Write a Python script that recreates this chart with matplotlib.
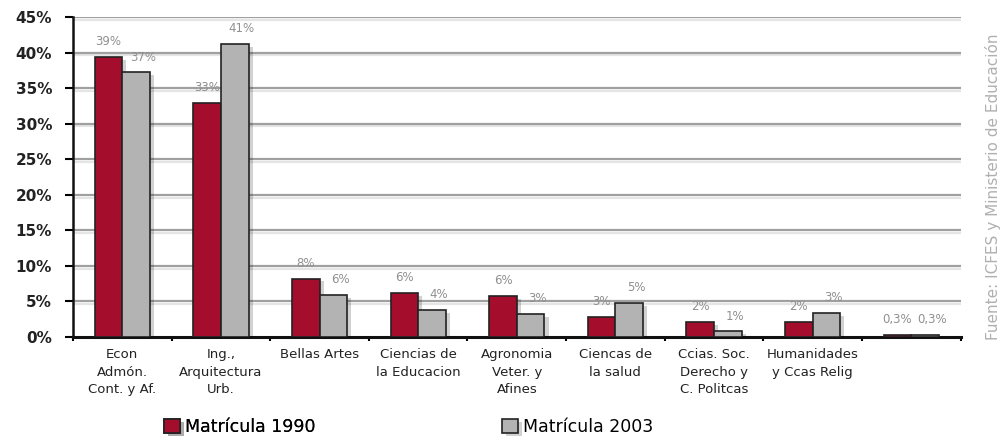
import numpy as np
import matplotlib
import matplotlib.pyplot as plt
import matplotlib.patheffects as pe
from matplotlib.ticker import FuncFormatter, MultipleLocator

matplotlib.use('Agg')

categories = ["Econ\nAdmón.\nCont. y Af.", "Ing.,\nArquitectura\nUrb.", "Bellas Artes",
              "Ciencias de\nla Educacion", "Agronomia\nVeter. y\nAfines", "Ciencas de\nla salud",
              "Ccias. Soc.\nDerecho y\nC. Politcas", "Humanidades\ny Ccas Relig", ""]
mat_1990 = [39.4, 32.9, 8.2, 6.2, 5.8, 2.8, 2.1, 2.1, 0.3]
mat_2003 = [37.2, 41.2, 5.9, 3.8, 3.2, 4.8, 0.8, 3.4, 0.3]
labels_1990 = ["39%", "33%", "8%", "6%", "6%", "3%", "2%", "2%", "0,3%"]
labels_2003 = ["37%", "41%", "6%", "4%", "3%", "5%", "1%", "3%", "0,3%"]

RED = '#a50d2c'
GRAY = '#b3b3b3'
W = 0.28

fig = plt.figure(figsize=(10.08, 4.45), dpi=100)
ax = fig.add_axes([0.0724, 0.2427, 0.8806, 0.7191])

x = np.arange(len(categories))
shadow = [pe.SimplePatchShadow(offset=(3, -2), shadow_rgbFace='black', alpha=0.18), pe.Normal()]

# rejilla gris con sombra suave
for yv in range(5, 46, 5):
    ax.axhline(yv, color='#a0a0a0', lw=1.6, zorder=1,
               path_effects=[pe.SimpleLineShadow(offset=(0, -2), alpha=0.1), pe.Normal()])

b1 = ax.bar(x - W / 2, mat_1990, W, color=RED, edgecolor='#222222', lw=1.2, zorder=3,
            label='Matrícula 1990')
b2 = ax.bar(x + W / 2, mat_2003, W, color=GRAY, edgecolor='#222222', lw=1.2, zorder=3,
            label='Matrícula 2003')
for b in list(b1) + list(b2):
    b.set_path_effects(shadow)

for i in range(len(categories)):
    ax.annotate(labels_1990[i], (x[i] - W / 2, mat_1990[i]), xytext=(0, 11), textcoords='offset points',
                ha='center', va='center', fontsize=8.5, color='#909090')
    ax.annotate(labels_2003[i], (x[i] + W / 2, mat_2003[i]), xytext=(5, 11), textcoords='offset points',
                ha='center', va='center', fontsize=8.5, color='#909090')

ax.set_xlim(-0.5, len(categories) - 0.5)
ax.set_ylim(0, 45)
ax.yaxis.set_major_locator(MultipleLocator(5))
ax.yaxis.set_major_formatter(FuncFormatter(lambda v, p: f"{int(v)}%"))
for t in ax.get_yticklabels():
    t.set_fontweight('bold')
ax.tick_params(axis='y', length=6, width=1.5, pad=9, labelsize=11, labelcolor='#222222')

ax.set_xticks(x)
ax.set_xticklabels(categories, fontsize=9.5, color='#222222', linespacing=1.45, va='top')
ax.set_xticks(np.arange(len(categories) + 1) - 0.5, minor=True)
ax.tick_params(axis='x', which='major', length=0, pad=8)
ax.tick_params(axis='x', which='minor', length=3, width=1.5)

for s in ['top', 'right']:
    ax.spines[s].set_visible(False)
ax.spines['left'].set_linewidth(1.8)
ax.spines['bottom'].set_linewidth(2.2)
ax.spines['left'].set_color('#111111')
ax.spines['bottom'].set_color('#111111')

fig.text(0.985, 0.58, "Fuente: ICFES y Ministerio de Educación", rotation=90,
         ha='center', va='center', fontsize=11, color='#b0b0b0')

leg_kw = dict(frameon=False, fontsize=12.5, handlelength=0.9, handleheight=0.9,
              handletextpad=0.3, borderaxespad=0, borderpad=0)
l1 = fig.legend(handles=[b1], loc='center left', bbox_to_anchor=(0.163, 0.04), **leg_kw)
fig.legend(handles=[b2], loc='center left', bbox_to_anchor=(0.498, 0.04), **leg_kw)
fig.add_artist(l1)

fig.savefig('out.png', dpi=100)
